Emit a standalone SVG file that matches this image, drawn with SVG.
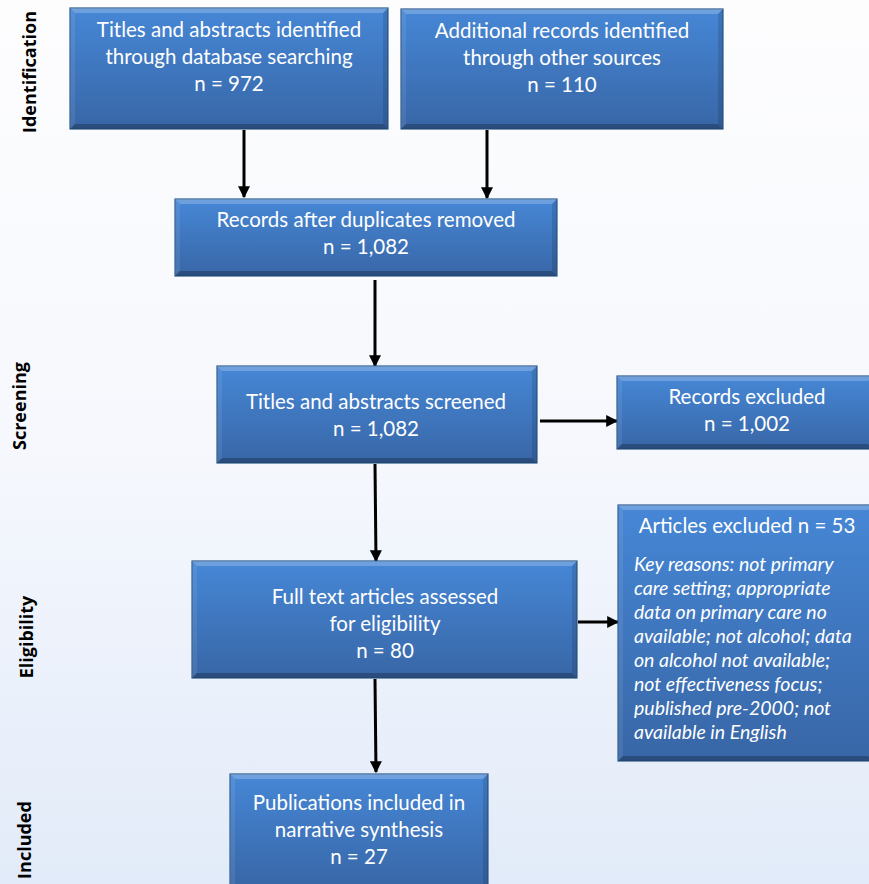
<svg xmlns="http://www.w3.org/2000/svg" width="869" height="884" viewBox="0 0 869 884">
<defs>
<linearGradient id="bg" x1="0" y1="0" x2="0" y2="1">
<stop offset="0" stop-color="#fdfdfe"/>
<stop offset="0.5" stop-color="#f6f8fd"/>
<stop offset="1" stop-color="#e2ebf9"/>
</linearGradient>
<linearGradient id="boxg" x1="0" y1="0" x2="0" y2="1">
<stop offset="0" stop-color="#4687d6"/>
<stop offset="1" stop-color="#3866a6"/>
</linearGradient>
<marker id="ah" viewBox="0 0 10 10" refX="9" refY="5" markerWidth="4" markerHeight="4" orient="auto" markerUnits="strokeWidth">
<path d="M0,0 L10,5 L0,10 z" fill="#000"/>
</marker>
<style>
.box{fill:url(#boxg);stroke:#2e5a8c;stroke-width:1.2}
.bt{fill:#ffffff;fill-opacity:0.22}
.bl{fill:#ffffff;fill-opacity:0.08}
.br{fill:#000000;fill-opacity:0.12}
.bb{fill:#000000;fill-opacity:0.25}
.t{font-family:Lato,"Liberation Sans",sans-serif;font-size:20.5px;fill:#ffffff;text-anchor:middle}
.i{font-family:Lato,"Liberation Sans",sans-serif;font-size:19.5px;font-style:italic;fill:#ffffff}
.side{font-family:"Open Sans","Liberation Sans",sans-serif;font-size:18px;font-weight:bold;fill:#000;text-anchor:middle}
.con{stroke:#000;stroke-width:3;fill:none;marker-end:url(#ah)}
</style>
</defs>
<rect x="0" y="0" width="869" height="884" fill="url(#bg)"/>

<g id="side-labels">
<text class="side" transform="translate(36,72) rotate(-90)">Identification</text>
<text class="side" transform="translate(26,406) rotate(-90)">Screening</text>
<text class="side" transform="translate(33,637) rotate(-90)">Eligibility</text>
<text class="side" transform="translate(31,840) rotate(-90)">Included</text>
</g>

<g id="connectors">
<line class="con" x1="244" y1="130" x2="244" y2="197"/>
<line class="con" x1="487" y1="130" x2="487" y2="198"/>
<line class="con" x1="375" y1="280" x2="375" y2="366"/>
<line class="con" x1="540" y1="421" x2="617" y2="421"/>
<line class="con" x1="375" y1="464" x2="376" y2="561"/>
<line class="con" x1="578" y1="622" x2="618" y2="622"/>
<line class="con" x1="375" y1="679" x2="376" y2="772"/>
</g>

<g id="n1">
<rect class="box" x="70" y="8" width="318" height="121"/>
<polygon class="bt" points="70,8 388,8 383,13 75,13"/>
<polygon class="bl" points="70,8 75,13 75,124 70,129"/>
<polygon class="br" points="388,8 388,129 383,124 383,13"/>
<polygon class="bb" points="70,129 75,124 383,124 388,129"/>
<text class="t" x="229" y="37">Titles and abstracts identified</text>
<text class="t" x="229" y="64">through database searching</text>
<text class="t" x="229" y="91">n = 972</text>
</g>

<g id="n2">
<rect class="box" x="401" y="9" width="322" height="120"/>
<polygon class="bt" points="401,9 723,9 718,14 406,14"/>
<polygon class="bl" points="401,9 406,14 406,124 401,129"/>
<polygon class="br" points="723,9 723,129 718,124 718,14"/>
<polygon class="bb" points="401,129 406,124 718,124 723,129"/>
<text class="t" x="562" y="38">Additional records identified</text>
<text class="t" x="562" y="65">through other sources</text>
<text class="t" x="562" y="92">n = 110</text>
</g>

<g id="n3">
<rect class="box" x="175" y="199" width="382" height="77"/>
<polygon class="bt" points="175,199 557,199 552,204 180,204"/>
<polygon class="bl" points="175,199 180,204 180,271 175,276"/>
<polygon class="br" points="557,199 557,276 552,271 552,204"/>
<polygon class="bb" points="175,276 180,271 552,271 557,276"/>
<text class="t" x="366" y="227">Records after duplicates removed</text>
<text class="t" x="366" y="254">n = 1,082</text>
</g>

<g id="n4">
<rect class="box" x="217" y="366" width="320" height="97"/>
<polygon class="bt" points="217,366 537,366 532,371 222,371"/>
<polygon class="bl" points="217,366 222,371 222,458 217,463"/>
<polygon class="br" points="537,366 537,463 532,458 532,371"/>
<polygon class="bb" points="217,463 222,458 532,458 537,463"/>
<text class="t" x="376" y="409">Titles and abstracts screened</text>
<text class="t" x="376" y="436">n = 1,082</text>
</g>

<g id="n5">
<rect class="box" x="617" y="376" width="256" height="73"/>
<polygon class="bt" points="617,376 873,376 868,381 622,381"/>
<polygon class="bl" points="617,376 622,381 622,444 617,449"/>
<polygon class="bb" points="617,449 622,444 868,444 873,449"/>
<text class="t" x="747" y="404">Records excluded</text>
<text class="t" x="747" y="431">n = 1,002</text>
</g>

<g id="n6">
<rect class="box" x="618" y="505" width="255" height="256"/>
<polygon class="bt" points="618,505 873,505 868,510 623,510"/>
<polygon class="bl" points="618,505 623,510 623,756 618,761"/>
<polygon class="bb" points="618,761 623,756 868,756 873,761"/>
<text class="t" x="747" y="533">Articles excluded n = 53</text>
<text class="i" x="634" y="571">Key reasons: not primary</text>
<text class="i" x="634" y="595">care setting; appropriate</text>
<text class="i" x="634" y="619">data on primary care no</text>
<text class="i" x="634" y="643">available; not alcohol; data</text>
<text class="i" x="634" y="667">on alcohol not available;</text>
<text class="i" x="634" y="691">not effectiveness focus;</text>
<text class="i" x="634" y="715">published pre-2000; not</text>
<text class="i" x="634" y="739">available in English</text>
</g>

<g id="n7">
<rect class="box" x="192" y="561" width="385" height="117"/>
<polygon class="bt" points="192,561 577,561 572,566 197,566"/>
<polygon class="bl" points="192,561 197,566 197,673 192,678"/>
<polygon class="br" points="577,561 577,678 572,673 572,566"/>
<polygon class="bb" points="192,678 197,673 572,673 577,678"/>
<text class="t" x="385" y="604">Full text articles assessed</text>
<text class="t" x="385" y="631">for eligibility</text>
<text class="t" x="385" y="658">n = 80</text>
</g>

<g id="n8">
<rect class="box" x="230" y="774" width="258" height="116"/>
<polygon class="bt" points="230,774 488,774 483,779 235,779"/>
<polygon class="bl" points="230,774 235,779 235,890 230,890"/>
<polygon class="br" points="488,774 488,890 483,890 483,779"/>
<text class="t" x="359" y="810">Publications included in</text>
<text class="t" x="359" y="837">narrative synthesis</text>
<text class="t" x="359" y="864">n = 27</text>
</g>
</svg>
